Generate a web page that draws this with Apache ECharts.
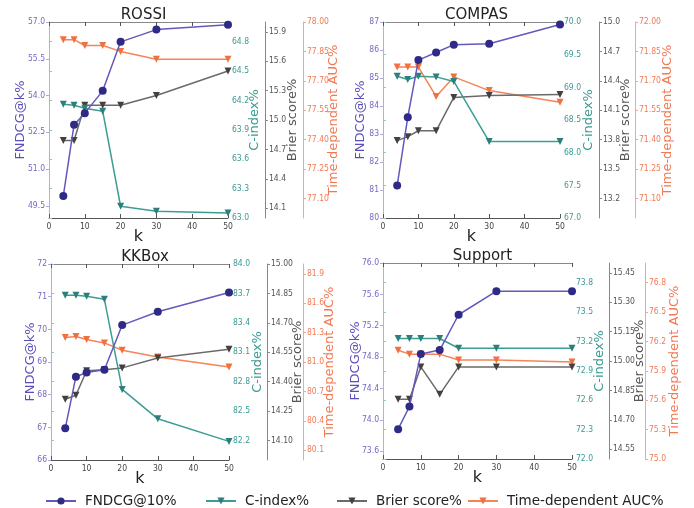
<!DOCTYPE html>
<html><head><meta charset="utf-8">
<script src="https://cdn.jsdelivr.net/npm/echarts@6/dist/echarts.min.js"></script>
<style>html,body{margin:0;padding:0;background:#fff}#c{width:694px;height:508px}</style>
</head><body><div id="c"></div>
<script>
const kValues = [4, 7, 10, 15, 20, 30, 50];
const seriesNames = ['FNDCG@10%', 'C-index%', 'Brier score%', 'Time-dependent AUC%'];
const axisNames = ['FNDCG@k%', 'C-index%', 'Brier score%', 'Time-dependent AUC%'];
const panelTitles = ['ROSSI', 'COMPAS', 'KKBox', 'Support'];

// ROSSI
const rossiFndcg = [49.9, 52.81, 53.28, 54.19, 56.19, 56.69, 56.89];
const rossiCindex = [64.16, 64.15, 64.12, 64.09, 63.12, 63.07, 63.05];
const rossiBrier = [14.79, 14.79, 15.15, 15.15, 15.15, 15.25, 15.50];
const rossiAuc = [77.91, 77.91, 77.88, 77.88, 77.85, 77.81, 77.81];
// COMPAS
const compasFndcg = [81.16, 83.60, 85.64, 85.91, 86.19, 86.22, 86.91];
const compasCindex = [69.17, 69.12, 69.17, 69.16, 69.09, 68.17, 68.17];
const compasBrier = [13.79, 13.83, 13.89, 13.89, 14.23, 14.25, 14.26];
const compasAuc = [71.77, 71.77, 71.77, 71.62, 71.72, 71.65, 71.59];
// KKBox
const kkboxFndcg = [66.97, 68.55, 68.68, 68.76, 70.13, 70.54, 71.13];
const kkboxCindex = [83.68, 83.68, 83.67, 83.64, 82.72, 82.42, 82.19];
const kkboxBrier = [14.31, 14.33, 14.455, 14.46, 14.47, 14.52, 14.565];
const kkboxAuc = [81.25, 81.26, 81.23, 81.195, 81.12, 81.05, 80.95];
// Support
const supportFndcg = [73.88, 74.17, 74.84, 74.89, 75.34, 75.64, 75.64];
const supportCindex = [73.23, 73.23, 73.23, 73.23, 73.13, 73.13, 73.13];
const supportBrier = [14.805, 14.805, 14.97, 14.83, 14.97, 14.97, 14.97];
const supportAuc = [76.11, 76.07, 76.07, 76.07, 76.01, 76.01, 75.99];

// tick labels
const rossiFndcgTicks = [49.5, 51.0, 52.5, 54.0, 55.5, 57.0];
const rossiCindexTicks = [63.0, 63.3, 63.6, 63.9, 64.2, 64.5, 64.8];
const rossiBrierTicks = [14.1, 14.4, 14.7, 15.0, 15.3, 15.6, 15.9];
const rossiAucTicks = [77.10, 77.25, 77.40, 77.55, 77.70, 77.85, 78.00];
const compasFndcgTicks = [80, 81, 82, 83, 84, 85, 86, 87];
const compasCindexTicks = [67.0, 67.5, 68.0, 68.5, 69.0, 69.5, 70.0];
const compasBrierTicks = [13.2, 13.5, 13.8, 14.1, 14.4, 14.7, 15.0];
const compasAucTicks = [71.10, 71.25, 71.40, 71.55, 71.70, 71.85, 72.00];
const kkboxFndcgTicks = [66, 67, 68, 69, 70, 71, 72];
const kkboxCindexTicks = [82.2, 82.5, 82.8, 83.1, 83.4, 83.7, 84.0];
const kkboxBrierTicks = [14.10, 14.25, 14.40, 14.55, 14.70, 14.85, 15.00];
const kkboxAucTicks = [80.1, 80.4, 80.7, 81.0, 81.3, 81.6, 81.9];
const supportFndcgTicks = [73.6, 74.0, 74.4, 74.8, 75.2, 75.6, 76.0];
const supportCindexTicks = [72.0, 72.3, 72.6, 72.9, 73.2, 73.5, 73.8];
const supportBrierTicks = [14.55, 14.70, 14.85, 15.00, 15.15, 15.30, 15.45];
const supportAucTicks = [75.0, 75.3, 75.6, 75.9, 76.2, 76.5, 76.8];

const panels = [
  {data: [rossiFndcg, rossiCindex, rossiBrier, rossiAuc],
   ticks: [rossiFndcgTicks, rossiCindexTicks, rossiBrierTicks, rossiAucTicks],
   ranges: [[49, 57], [63, 65], [14, 16], [77, 78]], dec: [1, 1, 1, 2],
   grid: {left: 49, top: 22, width: 179, height: 196}, offs: [37, 75], gaps: [22, 20, 21, 24]},
  {data: [compasFndcg, compasCindex, compasBrier, compasAuc],
   ticks: [compasFndcgTicks, compasCindexTicks, compasBrierTicks, compasAucTicks],
   ranges: [[80, 87], [67, 70], [13, 15], [71, 72]], dec: [0, 1, 1, 2],
   grid: {left: 383, top: 22, width: 177, height: 196}, offs: [39, 75], gaps: [16, 22, 20, 26]},
  {data: [kkboxFndcg, kkboxCindex, kkboxBrier, kkboxAuc],
   ticks: [kkboxFndcgTicks, kkboxCindexTicks, kkboxBrierTicks, kkboxAucTicks],
   ranges: [[66, 72], [82, 84], [14, 15], [80, 82]], dec: [0, 1, 2, 1],
   grid: {left: 51, top: 264, width: 178, height: 196}, offs: [38, 74], gaps: [14, 22, 24, 20]},
  {data: [supportFndcg, supportCindex, supportBrier, supportAuc],
   ticks: [supportFndcgTicks, supportCindexTicks, supportBrierTicks, supportAucTicks],
   ranges: [[73.5, 76], [72, 74], [14.5, 15.5], [75, 77]], dec: [1, 1, 2, 1],
   grid: {left: 383, top: 263, width: 189, height: 196}, offs: [37, 73], gaps: [21, 21, 24, 23]}
];

const lineColors = ['#6259bd', '#3d9c94', '#6a6a6a', '#f4845a'];
const markColors = ['#2e2a86', '#2c8079', '#444040', '#f07040'];
const labelColors = ['#7468c4', '#3a9a92', '#555555', '#f07a55'];
const axisLineColors = ['#b0aade', '#8cc8c2', '#888888', '#f5a88c'];
const nameColors = ['#5a4fb8', '#3a9a92', '#555555', '#f07a55'];
const symbols = ['circle', 'triangle', 'triangle', 'triangle'];
const labelFont = "'DejaVu Sans Condensed', 'DejaVu Sans'";

const grids = [], xAxes = [], yAxes = [], series = [], titles = [];
panels.forEach((p, pi) => {
  grids.push(Object.assign({containLabel: false}, p.grid));
  const cx = p.grid.left + p.grid.width / 2;
  titles.push({text: panelTitles[pi], left: cx, top: p.grid.top - 19, textAlign: 'center',
    textStyle: {fontSize: 15, fontWeight: 'normal', color: '#222', fontFamily: 'DejaVu Sans'}});
  xAxes.push({gridIndex: pi, type: 'value', min: 0, max: 50, interval: 10, position: 'bottom',
    name: 'k', nameLocation: 'middle', nameGap: 11, nameMoveOverlap: false,
    nameTextStyle: {fontSize: 16, color: '#222', fontFamily: 'DejaVu Sans'},
    axisLine: {lineStyle: {color: '#555'}}, axisTick: {inside: true, length: 4, lineStyle: {color: '#555'}},
    axisLabel: {fontSize: 8.5, color: '#444', margin: 4, fontFamily: labelFont},
    splitLine: {show: false}});
  xAxes.push({gridIndex: pi, type: 'value', min: 0, max: 50, interval: 10, position: 'top',
    axisLine: {lineStyle: {color: '#888'}}, axisTick: {inside: true, length: 4, lineStyle: {color: '#555'}},
    axisLabel: {show: false}, splitLine: {show: false}});
  for (let s = 0; s < 4; s++) {
    const d = p.dec[s];
    yAxes.push({gridIndex: pi, type: 'value', min: p.ranges[s][0], max: p.ranges[s][1],
      position: s === 0 ? 'left' : 'right', offset: s < 2 ? 0 : p.offs[s - 2],
      name: axisNames[s], nameLocation: 'middle', nameRotate: 90, nameGap: p.gaps[s],
      nameMoveOverlap: false,
      nameTextStyle: {fontSize: 13, color: nameColors[s], fontFamily: 'DejaVu Sans'},
      axisLine: {show: true, lineStyle: {color: axisLineColors[s]}},
      axisTick: {show: true, length: 3, customValues: p.ticks[s], lineStyle: {color: axisLineColors[s]}},
      axisLabel: {fontSize: 8.5, color: labelColors[s], margin: 4, customValues: p.ticks[s],
        fontFamily: labelFont, formatter: v => Number(v).toFixed(d)},
      splitLine: {show: false}});
    series.push({name: seriesNames[s], type: 'line', xAxisIndex: pi * 2, yAxisIndex: pi * 4 + s,
      data: kValues.map((k, i) => [k, p.data[s][i]]),
      symbol: symbols[s], symbolRotate: s === 0 ? 0 : 180, symbolSize: s === 0 ? 8 : 7,
      lineStyle: {color: lineColors[s], width: 1.5},
      itemStyle: {color: markColors[s]}, animation: false, z: 10 - s});
  }
});

const legendLefts = [40, 200, 331, 462];
const legends = seriesNames.map((n, i) => ({data: [n], left: legendLefts[i], top: 489,
  itemWidth: 30, itemHeight: 9, textStyle: {fontSize: 13.5, color: '#222', fontFamily: 'DejaVu Sans',
  padding: [0, 0, 0, 4]}}));

const chart = echarts.init(document.getElementById('c'), null, {renderer: 'canvas'});
chart.setOption({
  backgroundColor: '#fff',
  animation: false,
  title: titles,
  grid: grids,
  xAxis: xAxes,
  yAxis: yAxes,
  legend: legends,
  series: series
});
</script></body></html>
